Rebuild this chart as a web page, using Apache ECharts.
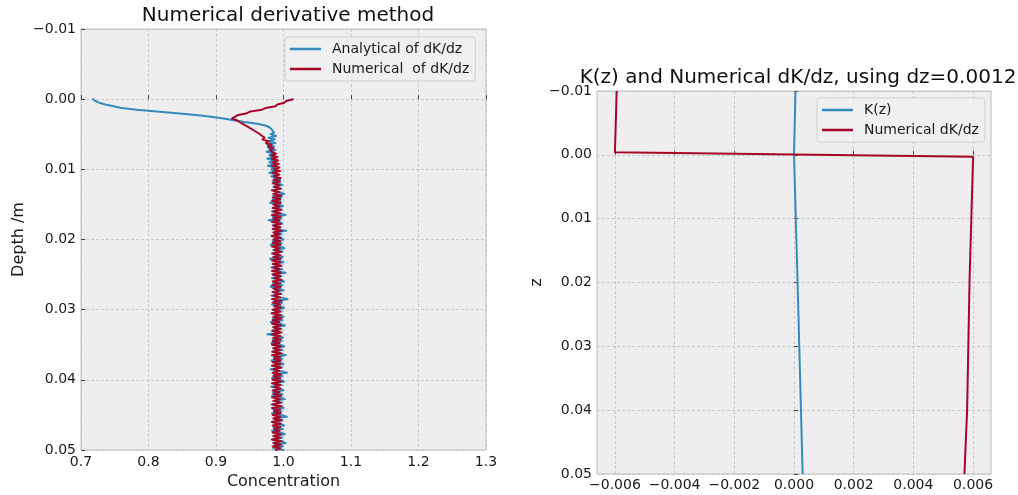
<!DOCTYPE html>
<html>
<head>
<meta charset="utf-8">
<script src="https://cdn.jsdelivr.net/npm/echarts@6/dist/echarts.min.js"></script>
<style>
  html, body { margin: 0; padding: 0; background: #ffffff; }
  #chart { width: 1018px; height: 495px; }
</style>
</head>
<body>
<div id="chart"></div>
<script>
// ---- Left panel: concentration profiles vs depth (sampled every 0.00025 m) ----
const depthStep = 0.00025;

const analytical = [
  0.718, 0.721, 0.727, 0.736, 0.748, 0.760, 0.783, 0.812, 0.842, 0.870,
  0.893, 0.911, 0.926, 0.942, 0.961, 0.973, 0.979, 0.982, 0.984, 0.986,
  0.981, 0.989, 0.978, 0.987, 0.977, 0.988, 0.976, 0.986, 0.978, 0.988,
  0.975, 0.985, 0.979, 0.987, 0.976, 0.986, 0.979, 0.989, 0.977, 0.987,
  0.982, 0.987, 0.979, 0.990, 0.982, 0.988, 0.995, 0.984, 0.993, 0.998,
  0.985, 0.996, 0.983, 0.994, 1.001, 0.985, 0.997, 0.984, 0.995, 0.980,
  0.993, 0.999, 0.985, 0.996, 0.983, 0.994, 1.003, 0.984, 0.997, 0.978,
  0.994, 0.998, 0.984, 0.996, 0.985, 1.004, 0.986, 0.997, 0.982, 0.995,
  1.000, 0.984, 0.997, 0.981, 0.994, 1.001, 0.985, 0.998, 0.983, 0.995,
  0.999, 0.980, 0.994, 1.000, 0.985, 0.996, 0.982, 0.998, 0.986, 1.003,
  0.984, 0.997, 0.983, 0.995, 1.001, 0.985, 0.998, 0.981, 0.994, 1.000,
  0.984, 0.997, 0.982, 0.995, 1.006, 0.986, 0.998, 0.983, 0.996, 1.001,
  0.985, 0.997, 0.982, 0.994, 1.000, 0.984, 0.998, 0.981, 0.995, 1.002,
  0.985, 0.997, 0.983, 0.996, 0.976, 0.994, 0.999, 0.984, 0.997, 0.982,
  0.995, 1.001, 0.985, 0.998, 0.983, 0.996, 1.003, 0.986, 0.998, 0.982,
  0.995, 1.000, 0.985, 0.997, 0.981, 0.994, 1.005, 0.986, 0.998, 0.983,
  0.996, 1.001, 0.985, 0.997, 0.982, 0.995, 1.000, 0.984, 0.998, 0.983,
  0.996, 1.002, 0.986, 0.998, 0.982, 0.995, 1.000, 0.985, 0.997, 0.983,
  0.996, 1.005, 0.986, 0.998, 0.983, 0.995, 1.001, 0.985, 0.999, 0.983,
  0.996, 1.002, 0.986, 0.998, 0.984, 0.997, 1.003, 0.987, 0.999, 0.985,
  1.000
];

const numerical = [
  1.014, 1.004, 1.001, 0.991, 0.988, 0.974, 0.968, 0.951, 0.946, 0.933,
  0.933, 0.924, 0.931, 0.931, 0.939, 0.938, 0.948, 0.947, 0.957, 0.955,
  0.965, 0.963, 0.972, 0.969, 0.978, 0.974, 0.982, 0.977, 0.985, 0.980,
  0.983, 0.989, 0.982, 0.991, 0.983, 0.992, 0.984, 0.993, 0.983, 0.994,
  0.986, 0.995, 0.984, 0.994, 0.986, 0.996, 0.985, 0.995, 0.984, 0.994,
  0.986, 0.996, 0.983, 0.994, 0.985, 0.997, 0.984, 0.995, 0.983, 0.996,
  0.985, 0.994, 0.984, 0.997, 0.985, 0.995, 0.983, 0.996, 0.985, 0.994,
  0.983, 0.996, 0.985, 0.995, 0.984, 0.997, 0.985, 0.994, 0.983, 0.996,
  0.985, 0.995, 0.984, 0.996, 0.983, 0.994, 0.986, 0.997, 0.984, 0.995,
  0.985, 0.996, 0.983, 0.995, 0.984, 0.997, 0.985, 0.994, 0.983, 0.996,
  0.984, 0.995, 0.986, 0.997, 0.984, 0.995, 0.983, 0.996, 0.985, 0.994,
  0.984, 0.996, 0.985, 0.995, 0.983, 0.997, 0.984, 0.995, 0.986, 0.996,
  0.984, 0.995, 0.983, 0.996, 0.985, 0.997, 0.984, 0.994, 0.983, 0.996,
  0.985, 0.995, 0.984, 0.997, 0.983, 0.995, 0.985, 0.996, 0.984, 0.994,
  0.983, 0.996, 0.985, 0.995, 0.984, 0.997, 0.983, 0.995, 0.986, 0.996,
  0.984, 0.995, 0.983, 0.997, 0.985, 0.994, 0.984, 0.996, 0.985, 0.995,
  0.984, 0.997, 0.983, 0.995, 0.986, 0.996, 0.984, 0.994, 0.985, 0.997,
  0.983, 0.995, 0.985, 0.996, 0.984, 0.997, 0.983, 0.995, 0.986, 0.996,
  0.984, 0.995, 0.985, 0.997, 0.983, 0.996, 0.984, 0.995, 0.986, 0.994,
  0.984, 0.996, 0.985, 0.995, 0.983, 0.997, 0.985, 0.996, 0.984, 0.995,
  0.989
];

// ---- Right panel: K(z) and its numerical derivative ----
const kDepth = [-0.01, 0.0, 0.02, 0.05];
const kValues = [0.00005, 0.0, 0.00012, 0.00029];
const dkDepth = [-0.01, -0.0004, 0.0003, 0.02, 0.04, 0.05];
const dkValues = [-0.00594, -0.0060, 0.0060, 0.00588, 0.0058, 0.00571];

// ---- Tick values ----
const concTicks = [0.7, 0.8, 0.9, 1.0, 1.1, 1.2, 1.3];
const depthTicks = [-0.01, 0.0, 0.01, 0.02, 0.03, 0.04, 0.05];
const dkTicks = [-0.006, -0.004, -0.002, 0.0, 0.002, 0.004, 0.006];

const BLUE = '#348ABD';
const RED = '#A60628';
const FONT = 'DejaVu Sans';
const TXT = '#1a1a1a';

function fmt(v, d) {
  const r = Number(v.toFixed(d));
  return (r < 0 ? '\u2212' : '') + Math.abs(r).toFixed(d);
}

const profilePairs = (vals) => vals.map((c, i) => [c, i * depthStep]);
const zipPairs = (xs, ys) => xs.map((x, i) => [x, ys[i]]);

function valueAxis(grid, min, max, ticks, digits, margin, extra) {
  return Object.assign({
    type: 'value',
    gridIndex: grid,
    min: min,
    max: max,
    axisLine: { show: false },
    axisTick: { show: true, inside: true, length: 4, customValues: ticks,
                lineStyle: { color: '#444', width: 1 } },
    axisLabel: { customValues: ticks, formatter: (v) => fmt(v, digits),
                 fontFamily: FONT, fontSize: 14, color: TXT, margin: margin },
    splitLine: { show: true, lineStyle: { color: '#c2c2c2', width: 0.8, type: [3, 2] } },
    nameLocation: 'middle',
    nameTextStyle: { fontFamily: FONT, fontSize: 16, color: TXT }
  }, extra || {});
}

const legendBase = {
  orient: 'vertical',
  icon: 'rect',
  itemWidth: 31,
  itemHeight: 2.5,
  itemGap: 6,
  padding: [5, 6, 5, 5],
  backgroundColor: 'rgba(240,240,240,0.85)',
  borderColor: '#cfcfcf',
  borderWidth: 1,
  borderRadius: 3,
  textStyle: { fontFamily: FONT, fontSize: 14, color: TXT, padding: [0, 0, 0, 6] }
};

const chart = echarts.init(document.getElementById('chart'), null, { renderer: 'canvas' });

chart.setOption({
  animation: false,
  backgroundColor: '#ffffff',
  title: [
    { text: 'Numerical derivative method', left: 283, top: 1, textAlign: 'center',
      textStyle: { fontFamily: FONT, fontSize: 20, fontWeight: 'normal', color: '#111' } },
    { text: 'K(z) and Numerical dK/dz, using dz=0.0012', left: 793, top: 63, textAlign: 'center',
      textStyle: { fontFamily: FONT, fontSize: 20, fontWeight: 'normal', color: '#111' } }
  ],
  legend: [
    Object.assign({}, legendBase, { data: ['Analytical of dK/dz', 'Numerical  of dK/dz'], left: 285, top: 37 }),
    Object.assign({}, legendBase, { data: ['K(z)', 'Numerical dK/dz'], left: 817, top: 98 })
  ],
  grid: [
    { left: 81, top: 29, width: 405, height: 422, show: true, backgroundColor: '#eeeeee',
      borderColor: '#bcbcbc', borderWidth: 1 },
    { left: 597, top: 91, width: 394, height: 383, show: true, backgroundColor: '#eeeeee',
      borderColor: '#bcbcbc', borderWidth: 1 }
  ],
  xAxis: [
    valueAxis(0, 0.7, 1.3, concTicks, 1, 5, { name: 'Concentration', nameGap: 24 }),
    valueAxis(1, -0.0066, 0.0066, dkTicks, 3, 4, {})
  ],
  yAxis: [
    valueAxis(0, -0.01, 0.05, depthTicks, 2, 5, { inverse: true, name: 'Depth /m', nameGap: 54, nameRotate: 90 }),
    valueAxis(1, -0.01, 0.05, depthTicks, 2, 5, { inverse: true, name: 'z', nameGap: 52, nameRotate: 90 })
  ],
  series: [
    { name: 'Analytical of dK/dz', type: 'line', xAxisIndex: 0, yAxisIndex: 0,
      data: profilePairs(analytical), showSymbol: false, symbol: 'none', color: BLUE,
      lineStyle: { width: 2, color: BLUE, cap: 'round', join: 'round' } },
    { name: 'Numerical  of dK/dz', type: 'line', xAxisIndex: 0, yAxisIndex: 0,
      data: profilePairs(numerical), showSymbol: false, symbol: 'none', color: RED,
      lineStyle: { width: 2, color: RED, cap: 'round', join: 'round' } },
    { name: 'K(z)', type: 'line', xAxisIndex: 1, yAxisIndex: 1,
      data: zipPairs(kValues, kDepth), showSymbol: false, symbol: 'none', color: BLUE,
      lineStyle: { width: 2, color: BLUE } },
    { name: 'Numerical dK/dz', type: 'line', xAxisIndex: 1, yAxisIndex: 1,
      data: zipPairs(dkValues, dkDepth), showSymbol: false, symbol: 'none', color: RED,
      lineStyle: { width: 2, color: RED } }
  ]
});
</script>
</body>
</html>
